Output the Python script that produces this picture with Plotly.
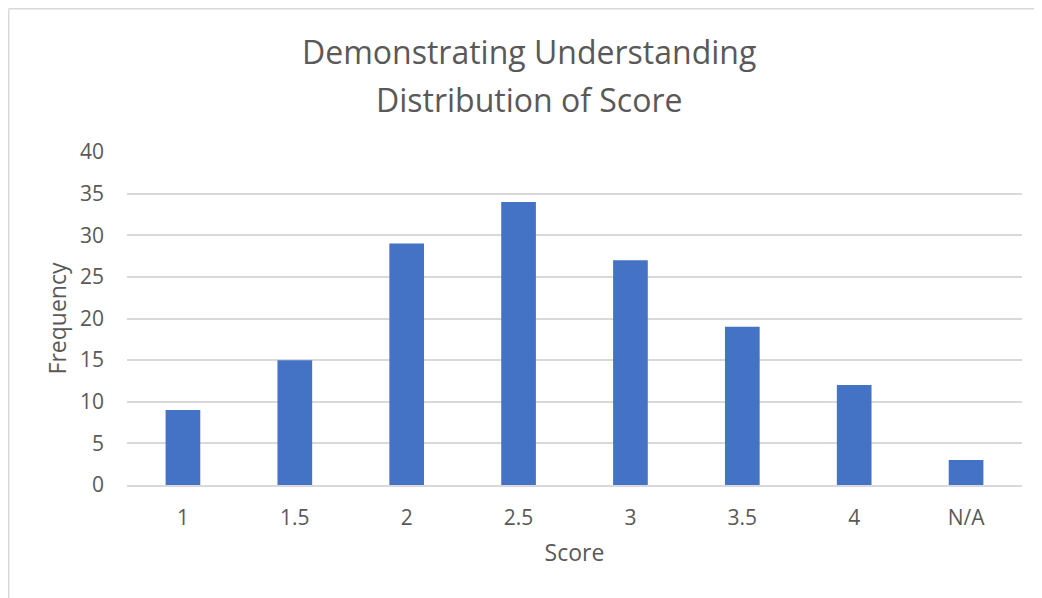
import plotly.graph_objects as go

categories = ["1", "1.5", "2", "2.5", "3", "3.5", "4", "N/A"]
frequency = [9, 15, 29, 34, 27, 19, 12, 3]
y_ticks = [0, 5, 10, 15, 20, 25, 30, 35, 40]
title_lines = ["Demonstrating Understanding", "Distribution of Score"]

W, H = 1034, 590
L, R, T, B = 119, 20, 144, 113
pw, ph = W - L - R, H - T - B

fig = go.Figure(go.Bar(x=categories, y=frequency, marker_color="#4472C4",
                       marker_line_width=0))

font = "Open Sans, Liberation Sans, sans-serif"
grey = "#595959"

# light border (left and top edges visible in reference)
x0 = (0.75 - L) / pw
y1 = (H - 0.75 - B) / ph
fig.add_shape(type="line", xref="paper", yref="paper", x0=x0, x1=x0, y0=-2, y1=y1,
              line=dict(color="#D9D9D9", width=1.5))
fig.add_shape(type="line", xref="paper", yref="paper", x0=x0, x1=2, y0=y1, y1=y1,
              line=dict(color="#D9D9D9", width=1.5))

# two-line title placed as annotations to match the reference line spacing
title_xc = 521
for line, yc in zip(title_lines, [43, 92]):
    fig.add_annotation(text=line, xref="paper", yref="paper", x=(title_xc - L) / pw,
                       y=(H - B - yc) / ph, xanchor="center", yanchor="middle",
                       showarrow=False, font=dict(family=font, size=32, color=grey))

fig.update_layout(
    width=W, height=H,
    margin=dict(l=L, r=R, t=T, b=B),
    paper_bgcolor="white", plot_bgcolor="white",
    bargap=0.69,
    showlegend=False,
    font=dict(family=font, color=grey),
)
fig.update_xaxes(
    title=dict(text="Score", font=dict(size=23, color=grey), standoff=15),
    tickfont=dict(size=21, color=grey),
    showgrid=False, showline=True, linecolor="#D9D9D9", linewidth=1.5,
    ticks="", ticklabelstandoff=13,
)
fig.update_yaxes(
    title=dict(text="Frequency", font=dict(size=23, color=grey), standoff=6),
    range=[0, 40], tickvals=y_ticks,
    tickfont=dict(size=21, color=grey),
    showgrid=True, gridcolor="#D9D9D9", gridwidth=1.5,
    zeroline=False, showline=False, ticks="", ticklabelstandoff=22,
)

fig.write_html("out.html")
